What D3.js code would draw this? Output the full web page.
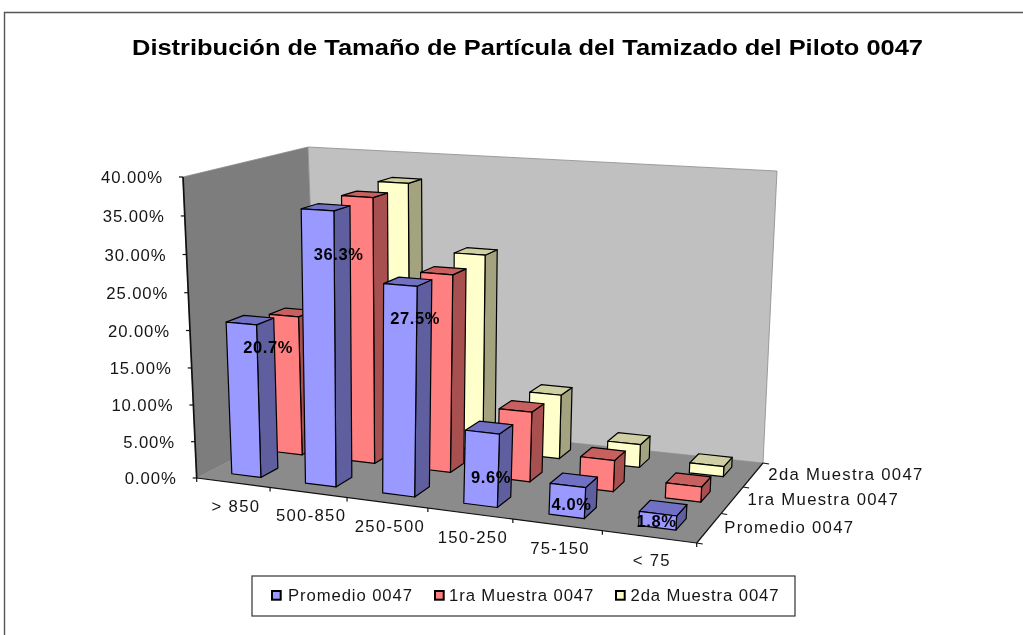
<!DOCTYPE html>
<html>
<head>
<meta charset="utf-8">
<script src="https://cdn.jsdelivr.net/npm/d3@7"></script>
<style>
  html, body { margin: 0; padding: 0; background: #fff; }
  svg { display: block; filter: blur(.35px); }
  text { font-family: "Liberation Sans", Arial, sans-serif; fill: #151515; }
  .tick-label { font-size: 16.7px; letter-spacing: .9px; }
  .axis-label { font-size: 16.7px; letter-spacing: 1.3px; }
  .bar-label { font-size: 16.5px; font-weight: bold; letter-spacing: .6px; fill: #000; text-anchor: middle; }
  .bar-face { stroke: #000; stroke-width: 1.2; stroke-linejoin: round; }
</style>
</head>
<body>
<svg id="chart" width="1023" height="635"></svg>
<script>
const categories = ["> 850", "500-850", "250-500", "150-250", "75-150", "< 75"];
const seriesNames = ["Promedio 0047", "1ra Muestra 0047", "2da Muestra 0047"];
const promedio = [20.7, 36.3, 27.5, 9.6, 4.0, 1.8];
const muestra1 = [19.5, 36.4, 26.9, 9.5, 4.2, 2.0];
const muestra2 = [21.9, 36.8, 27.6, 9.0, 3.2, 1.4];
const yTicks = [0, 5, 10, 15, 20, 25, 30, 35, 40];

const seriesValues = [promedio, muestra1, muestra2];
const faceColors = [
  { front: "#9999ff", side: "#5f5f9f", top: "#7070c4" },
  { front: "#ff8080", side: "#a85050", top: "#c86060" },
  { front: "#ffffcc", side: "#a3a380", top: "#cfcfa3" }
];
const legendBoxes = [272, 435, 616];
const legendTexts = [288, 449, 630.5];

const svg = d3.select("#chart");

// x = categories, y = depth, z = value, all 0..1 inside the chart box
const xScale = d3.scaleBand().domain(d3.range(categories.length)).range([0, 1]).paddingInner(.6).paddingOuter(.3);
const yScale = d3.scaleBand().domain(d3.range(seriesNames.length)).range([0, 1]).paddingInner(.6).paddingOuter(.3);
const zScale = d3.scaleLinear().domain([0, 40]).range([0, 1]);

// unit square -> quad, corners in order (0,0) (1,0) (1,1) (0,1)
function quadMap(q) {
  let dx1 = q[1][0] - q[2][0], dx2 = q[3][0] - q[2][0], sx = q[0][0] - q[1][0] + q[2][0] - q[3][0],
    dy1 = q[1][1] - q[2][1], dy2 = q[3][1] - q[2][1], sy = q[0][1] - q[1][1] + q[2][1] - q[3][1],
    den = dx1 * dy2 - dx2 * dy1,
    g = (sx * dy2 - dx2 * sy) / den,
    h = (dx1 * sy - sx * dy1) / den,
    a = q[1][0] - q[0][0] + g * q[1][0], b = q[3][0] - q[0][0] + h * q[3][0],
    d = q[1][1] - q[0][1] + g * q[1][1], e = q[3][1] - q[0][1] + h * q[3][1];
  return (u, v) => {
    let w = g * u + h * v + 1;
    return [(a * u + b * v + q[0][0]) / w, (d * u + e * v + q[0][1]) / w];
  };
}

const floorMap = quadMap([[196.7, 478], [696.7, 543], [763, 463], [318, 416]]);
const ceilMap = quadMap([[183, 177], [716, 209], [777, 171], [308, 147]]);

function project(x, y, z) {
  let f = floorMap(x, y), c = ceilMap(x, y),
    t = z * (1 - .04 * (1 - z)); // upper part of the box is a bit closer to the eye
  return [f[0] + (c[0] - f[0]) * t, f[1] + (c[1] - f[1]) * t];
}

const line = d3.line();
const closed = pts => line(pts) + "Z";

// frame
svg.append("path")
  .attr("d", "M4.5,635V12.5H1023")
  .attr("fill", "none").attr("stroke", "#555").attr("stroke-width", 1.4);

svg.append("text")
  .attr("x", 527.5).attr("y", 54.5)
  .attr("text-anchor", "middle")
  .attr("textLength", 791).attr("lengthAdjust", "spacingAndGlyphs")
  .style("font-size", "22.5px").style("font-weight", "bold").style("fill", "#000")
  .text("Distribución de Tamaño de Partícula del Tamizado del Piloto 0047");

// walls and floor
svg.append("path").attr("d", closed([project(0, 0, 0), project(0, 1, 0), project(0, 1, 1), project(0, 0, 1)]))
  .attr("fill", "#7d7d7d").attr("stroke", "#8a8a8a").attr("stroke-width", .8);
svg.append("path").attr("d", closed([project(0, 1, 0), project(1, 1, 0), project(1, 1, 1), project(0, 1, 1)]))
  .attr("fill", "#c0c0c0").attr("stroke", "#8a8a8a").attr("stroke-width", .8);
svg.append("path").attr("d", closed([project(0, 0, 0), project(1, 0, 0), project(1, 1, 0), project(0, 1, 0)]))
  .attr("fill", "#8b8b8b");

// axes
const axisG = svg.append("g").attr("stroke", "#111").attr("stroke-width", 1.2).attr("fill", "none");
axisG.append("path").attr("d", line([project(0, 0, 0), project(0, 0, 1)])).attr("stroke-width", 1.7);
axisG.append("path").attr("d", line([project(0, 0, 0), project(1, 0, 0)]));
axisG.append("path").attr("d", line([project(1, 0, 0), project(1, 1, 0)]));

yTicks.forEach(t => {
  let p = project(0, 0, zScale(t));
  axisG.append("path").attr("d", line([p, [p[0] - 4, p[1]]]));
  svg.append("text").attr("class", "tick-label")
    .attr("x", p[0] - 20).attr("y", p[1] + 6).attr("text-anchor", "end")
    .text(d3.format(".2f")(t) + "%");
});

d3.range(categories.length + 1).forEach(i => {
  let p = project(i / categories.length, 0, 0);
  axisG.append("path").attr("d", line([p, [p[0], p[1] + 4]]));
});
d3.range(seriesNames.length + 1).forEach(i => {
  let p = project(1, i / seriesNames.length, 0);
  axisG.append("path").attr("d", line([p, [p[0] + 6, p[1] + 1]]));
});

categories.forEach((c, i) => {
  let p = project(xScale(i) + xScale.bandwidth() / 2, 0, 0);
  svg.append("text").attr("class", "axis-label")
    .attr("x", p[0] + 3).attr("y", p[1] + 29).attr("text-anchor", "middle")
    .text(c);
});
seriesNames.forEach((s, j) => {
  let p = project(1, yScale(j) + yScale.bandwidth() / 2, 0);
  svg.append("text").attr("class", "axis-label")
    .attr("x", p[0] + 15).attr("y", p[1] + 5.5)
    .text(s);
});

// bars, back row first
const barsG = svg.append("g");
d3.range(seriesNames.length).reverse().forEach(j => {
  seriesValues[j].forEach((v, i) => {
    let x0 = xScale(i), x1 = x0 + xScale.bandwidth(),
      y0 = yScale(j), y1 = y0 + yScale.bandwidth(),
      z = zScale(v), c = faceColors[j];
    barsG.append("path").attr("class", "bar-face").attr("fill", c.side)
      .attr("d", closed([project(x1, y0, 0), project(x1, y1, 0), project(x1, y1, z), project(x1, y0, z)]));
    barsG.append("path").attr("class", "bar-face").attr("fill", c.top)
      .attr("d", closed([project(x0, y0, z), project(x1, y0, z), project(x1, y1, z), project(x0, y1, z)]));
    barsG.append("path").attr("class", "bar-face").attr("fill", c.front)
      .attr("d", closed([project(x0, y0, 0), project(x1, y0, 0), project(x1, y0, z), project(x0, y0, z)]));
  });
});

// value labels of the first series sit over its bars, drifting left with the category
const labelShift = d3.scaleLinear().domain([0, categories.length - 1]).range([26, -1]);
const labelLevel = v => v * (v > 15 ? .84 : .38);
promedio.forEach((v, i) => {
  let p = project(xScale(i) + xScale.bandwidth() / 2, yScale(0), zScale(labelLevel(v)));
  svg.append("text").attr("class", "bar-label")
    .attr("x", p[0] + labelShift(i)).attr("y", p[1] + 5)
    .text(v.toFixed(1) + "%");
});

// legend
const legend = svg.append("g");
legend.append("rect").attr("x", 252).attr("y", 576).attr("width", 543).attr("height", 40)
  .attr("fill", "#fff").attr("stroke", "#333").attr("stroke-width", 1.2);
seriesNames.forEach((s, j) => {
  legend.append("rect").attr("x", legendBoxes[j]).attr("y", 591).attr("width", 8.7).attr("height", 8.7)
    .attr("fill", faceColors[j].front).attr("stroke", "#000").attr("stroke-width", 2);
  legend.append("text").attr("class", "tick-label")
    .attr("x", legendTexts[j]).attr("y", 601)
    .text(s);
});
</script>
</body>
</html>
